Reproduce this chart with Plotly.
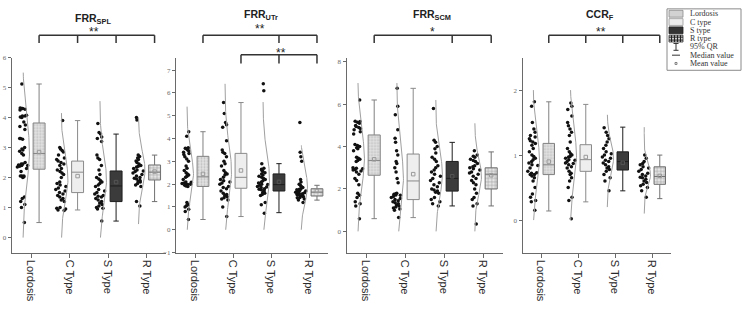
import numpy as np
import plotly.graph_objects as go

# ---------------- data ----------------
categories = ["Lordosis", "C Type", "S Type", "R Type"]
panel_titles = ["FRR<sub>SPL</sub>", "FRR<sub>UTr</sub>", "FRR<sub>SCM</sub>", "CCR<sub>F</sub>"]

# Panel 1: FRR_SPL
spl_lordosis = [5.12, 4.32, 4.3, 4.28, 4.3, 4.25, 4.08, 4.05, 4.02, 4.05, 4.0, 3.85, 3.75, 3.7, 3.6, 3.3,
                3.28, 3.3, 3.0, 2.95, 2.92, 2.88, 2.8, 2.75, 2.5, 2.45, 2.42, 2.4, 2.4, 2.38, 2.35, 2.45,
                2.3, 2.2, 2.05, 2.05, 2.03, 2.05, 2.0, 1.35, 1.3, 1.2, 1.1, 1.0, 0.5]
spl_c = [3.9, 3.0, 2.95, 2.9, 2.85, 2.75, 2.65, 2.6, 2.55, 2.5, 2.45, 2.4, 2.3, 2.25, 2.2, 2.15, 2.1, 2.0,
         1.85, 1.8, 1.75, 1.7, 1.65, 1.6, 1.55, 1.5, 1.45, 1.4, 1.35, 1.3, 1.25, 1.2, 1.0, 0.98, 0.95, 0.92, 0.9]
spl_s = [3.8, 3.5, 3.45, 3.35, 3.3, 3.2, 2.75, 2.65, 2.6, 2.4, 2.25, 2.1, 2.0, 1.95, 1.9, 1.85, 1.8, 1.75,
         1.7, 1.6, 1.55, 1.5, 1.45, 1.4, 1.38, 1.35, 1.3, 1.25, 1.2, 1.15, 1.1, 1.05, 1.0, 0.98, 0.95, 0.55]
spl_r = [4.0, 3.92, 2.75, 2.7, 2.65, 2.6, 2.55, 2.5, 2.45, 2.4, 2.38, 2.35, 2.3, 2.25, 2.22, 2.2, 2.15, 2.1,
         2.05, 2.0, 1.98, 1.95, 1.9, 1.88, 1.85, 1.8, 1.75, 1.7, 1.2, 1.05]
spl_low = [0.5, 0.92, 0.55, 1.2]
spl_q1 = [2.28, 1.5, 1.2, 1.92]
spl_median = [2.8, 2.18, 1.72, 2.18]
spl_q3 = [3.82, 2.55, 2.22, 2.42]
spl_high = [5.12, 3.9, 3.45, 2.75]
spl_mean = [2.85, 2.05, 1.85, 2.2]
spl_curve_lo = [0.0, 0.0, 0.0, 0.45]
spl_curve_hi = [5.5, 4.15, 4.55, 4.0]

# Panel 2: FRR_UTr
utr_lordosis = [4.3, 4.1, 3.6, 3.58, 3.55, 3.5, 3.45, 3.4, 3.35, 3.3, 3.2, 3.1, 3.0, 2.8, 2.7, 2.6, 2.5,
                2.45, 2.4, 2.35, 2.3, 2.2, 2.1, 2.08, 2.05, 2.03, 2.0, 2.0, 1.98, 1.95, 1.92, 1.9, 1.2, 1.1,
                1.05, 1.0, 0.9, 0.8, 0.45]
utr_c = [5.58, 5.1, 4.7, 4.6, 4.5, 3.9, 3.5, 3.4, 3.35, 3.2, 3.0, 2.9, 2.8, 2.6, 2.5, 2.45, 2.4, 2.3, 2.2,
         2.15, 2.1, 2.05, 2.0, 1.9, 1.85, 1.8, 1.7, 1.6, 1.55, 1.5, 1.45, 1.4, 1.35, 1.3, 1.0, 0.58]
utr_s = [6.4, 6.1, 2.9, 2.7, 2.65, 2.6, 2.55, 2.5, 2.45, 2.4, 2.35, 2.3, 2.25, 2.2, 2.15, 2.1, 2.05, 2.0,
         1.98, 1.95, 1.9, 1.88, 1.85, 1.8, 1.78, 1.75, 1.7, 1.65, 1.6, 1.55, 1.5, 1.2, 1.1, 0.72]
utr_r = [4.7, 3.4, 3.2, 3.0, 2.2, 2.1, 2.0, 1.95, 1.9, 1.85, 1.8, 1.78, 1.75, 1.72, 1.7, 1.68, 1.65, 1.62,
         1.6, 1.58, 1.55, 1.52, 1.5, 1.48, 1.45, 1.42, 1.4, 1.35, 1.3, 1.2]
utr_low = [0.45, 0.58, 0.75, 1.3]
utr_q1 = [1.9, 1.82, 1.7, 1.48]
utr_median = [2.32, 2.3, 1.98, 1.65]
utr_q3 = [3.22, 3.35, 2.45, 1.8]
utr_high = [4.3, 5.58, 2.9, 1.95]
utr_mean = [2.45, 2.6, 2.1, 1.7]
utr_curve_lo = [0.0, 0.0, 0.0, 0.0]
utr_curve_hi = [5.4, 6.4, 5.6, 3.7]

# Panel 3: FRR_SCM
scm_lordosis = [6.2, 5.2, 5.18, 5.15, 5.1, 5.0, 4.95, 4.9, 4.85, 4.8, 4.7, 4.6, 4.1, 4.05, 4.0, 3.95, 3.9,
                3.8, 3.5, 3.45, 3.4, 3.35, 3.3, 3.0, 2.98, 2.95, 2.92, 2.9, 2.85, 2.8, 2.7, 2.5, 2.4, 2.2,
                1.8, 1.7, 1.6, 1.4, 1.3, 1.2, 0.6]
scm_c = [6.75, 5.9, 5.5, 4.8, 4.4, 4.2, 3.8, 3.6, 3.3, 3.2, 3.0, 2.8, 2.5, 2.3, 1.8, 1.78, 1.75, 1.72, 1.7,
         1.65, 1.6, 1.55, 1.5, 1.45, 1.4, 1.35, 1.3, 1.25, 1.2, 1.15, 1.1, 1.05, 1.0, 0.65]
scm_s = [5.8, 4.3, 4.2, 4.0, 3.9, 3.7, 3.5, 3.4, 3.3, 3.1, 3.0, 2.9, 2.8, 2.7, 2.6, 2.5, 2.4, 2.3, 2.2, 2.1,
         2.0, 1.95, 1.9, 1.85, 1.8, 1.6, 1.5, 1.4, 1.3, 1.2]
scm_r = [3.8, 3.6, 3.55, 3.5, 3.4, 3.35, 3.3, 3.2, 3.1, 3.05, 3.0, 2.95, 2.9, 2.8, 2.75, 2.7, 2.6, 2.5,
         2.4, 2.3, 2.2, 2.0, 1.8, 1.6, 1.5, 1.3, 1.2, 0.35]
scm_low = [0.6, 0.65, 1.2, 1.2]
scm_q1 = [2.65, 1.5, 1.9, 2.0]
scm_median = [3.35, 2.38, 2.5, 2.7]
scm_q3 = [4.55, 3.65, 3.3, 3.0]
scm_high = [6.2, 6.75, 4.2, 3.75]
scm_mean = [3.4, 2.7, 2.6, 2.65]
scm_curve_lo = [0.0, 0.0, 0.0, 0.0]
scm_curve_hi = [7.0, 7.0, 6.2, 5.1]

# Panel 4: CCR_F
ccr_lordosis = [1.82, 1.75, 1.5, 1.4, 1.35, 1.3, 1.28, 1.25, 1.22, 1.2, 1.18, 1.15, 1.1, 1.05, 1.0, 0.98,
                0.95, 0.93, 0.9, 0.88, 0.85, 0.84, 0.8, 0.75, 0.73, 0.72, 0.7, 0.7, 0.68, 0.65, 0.6, 0.5,
                0.4, 0.35, 0.3, 0.28, 0.15]
ccr_c = [1.8, 1.75, 1.7, 1.6, 1.5, 1.45, 1.4, 1.35, 1.3, 1.2, 1.1, 1.05, 1.02, 1.0, 0.98, 0.97, 0.95, 0.93,
         0.92, 0.9, 0.88, 0.87, 0.85, 0.82, 0.8, 0.75, 0.72, 0.7, 0.65, 0.6, 0.5, 0.35, 0.3, 0.02]
ccr_s = [1.42, 1.35, 1.3, 1.25, 1.2, 1.15, 1.1, 1.05, 1.02, 1.0, 0.97, 0.95, 0.92, 0.9, 0.88, 0.85, 0.82,
         0.8, 0.78, 0.75, 0.7, 0.65, 0.6, 0.45]
ccr_r = [1.0, 0.95, 0.9, 0.87, 0.85, 0.82, 0.8, 0.78, 0.75, 0.72, 0.7, 0.68, 0.66, 0.65, 0.63, 0.6, 0.58,
         0.55, 0.53, 0.5, 0.45, 0.35]
ccr_low = [0.14, 0.28, 0.45, 0.33]
ccr_q1 = [0.7, 0.75, 0.77, 0.55]
ccr_median = [0.85, 0.93, 0.9, 0.67]
ccr_q3 = [1.18, 1.16, 1.05, 0.82]
ccr_high = [1.82, 1.78, 1.43, 1.0]
ccr_mean = [0.9, 0.97, 0.88, 0.68]
ccr_curve_lo = [0.0, 0.0, 0.2, 0.1]
ccr_curve_hi = [2.0, 2.0, 1.62, 1.43]

y_tick_values = [[0, 1, 2, 3, 4, 5, 6], [-1, 0, 1, 2, 3, 4, 5, 6, 7], [0, 2, 4, 6, 8], [0, 1, 2]]
significance = [["**"], ["**", "**"], ["*"], ["**"]]

legend_labels = ["Lordosis", "C type", "S type", "R type", "95% QR", "Median value", "Mean value"]

# ---------------- assembly ----------------
panels = [
    dict(points=[spl_lordosis, spl_c, spl_s, spl_r], low=spl_low, q1=spl_q1, med=spl_median, q3=spl_q3,
         high=spl_high, mean=spl_mean, clo=spl_curve_lo, chi=spl_curve_hi),
    dict(points=[utr_lordosis, utr_c, utr_s, utr_r], low=utr_low, q1=utr_q1, med=utr_median, q3=utr_q3,
         high=utr_high, mean=utr_mean, clo=utr_curve_lo, chi=utr_curve_hi),
    dict(points=[scm_lordosis, scm_c, scm_s, scm_r], low=scm_low, q1=scm_q1, med=scm_median, q3=scm_q3,
         high=scm_high, mean=scm_mean, clo=scm_curve_lo, chi=scm_curve_hi),
    dict(points=[ccr_lordosis, ccr_c, ccr_s, ccr_r], low=ccr_low, q1=ccr_q1, med=ccr_median, q3=ccr_q3,
         high=ccr_high, mean=ccr_mean, clo=ccr_curve_lo, chi=ccr_curve_hi),
]

# layout geometry (pixels)
W, H = 743, 317
geom = [
    dict(cat0=31, sp=38.5, yr=[-0.5, 6.0]),
    dict(cat0=195, sp=38.0, yr=[-1.0, 7.55]),
    dict(cat0=366, sp=39.0, yr=[-1.0, 8.2]),
    dict(cat0=541, sp=37.0, yr=[-0.5, 2.5]),
]
PLOT_TOP, PLOT_BOT = 55, 255
BOX_OFF, PT_OFF, BOX_W, CURVE_W = 0.21, -0.21, 0.31, 0.17

styles = [
    dict(fill="#dadada", pattern=dict(shape=".", fgcolor="#9a9a9a", bgcolor="#e2e2e2", size=3, solidity=0.35),
         line="#808080"),
    dict(fill="#eeeeee", pattern=None, line="#8a8a8a"),
    dict(fill="#3b3b3b", pattern=None, line="#1e1e1e"),
    dict(fill="#e4e4e4", pattern=dict(shape="+", fgcolor="#5a5a5a", bgcolor="#e6e6e6", size=3.5, solidity=0.3),
         line="#707070"),
]

def px2x(px):
    return px / W

def py2y(py):
    return 1 - py / H

fig = go.Figure()
layout = dict(
    width=W, height=H, margin=dict(l=0, r=0, t=0, b=0),
    paper_bgcolor="white", plot_bgcolor="white", showlegend=False,
    barmode="overlay", boxmode="overlay", hovermode=False,
    shapes=[], annotations=[],
)

for k, (p, g) in enumerate(zip(panels, geom)):
    sfx = "" if k == 0 else str(k + 1)
    xa, ya = "x" + sfx, "y" + sfx
    xdom = [px2x(g["cat0"] - 0.5 * g["sp"]), px2x(g["cat0"] + 3.5 * g["sp"])]
    ydom = [py2y(PLOT_BOT), py2y(PLOT_TOP)]
    layout["xaxis" + sfx] = dict(
        domain=xdom, range=[-0.5, 3.5], anchor=ya, showgrid=False, zeroline=False,
        showline=True, linecolor="#6a6a6a", linewidth=1, ticks="outside", ticklen=4,
        tickcolor="#6a6a6a", tickvals=[0, 1, 2, 3], ticktext=categories, tickangle=90,
        tickfont=dict(family="Liberation Sans", size=11, color="#2a2a2a"), fixedrange=True,
    )
    layout["yaxis" + sfx] = dict(
        domain=ydom, range=g["yr"], anchor=xa, showgrid=False, zeroline=False,
        showline=True, linecolor="#6a6a6a", linewidth=1, ticks="outside", ticklen=3,
        tickcolor="#6a6a6a", tickvals=y_tick_values[k],
        tickfont=dict(family="Liberation Serif", size=7, color="#6a6a6a"), fixedrange=True,
    )
    for i in range(4):
        st = styles[i]
        pts = np.array(p["points"][i], dtype=float)
        # distribution curve (normal fit of the points)
        mu, sd = pts.mean(), pts.std(ddof=1)
        yy = np.linspace(p["clo"][i], p["chi"][i], 80)
        xx = i + PT_OFF + CURVE_W * np.exp(-0.5 * ((yy - mu) / sd) ** 2)
        fig.add_trace(go.Scatter(x=xx, y=yy, mode="lines", line=dict(color="#a0a0a0", width=1),
                                 xaxis=xa, yaxis=ya, hoverinfo="skip"))
        # jittered raw points
        fig.add_trace(go.Box(y=pts, x0=i + PT_OFF, width=0.3, boxpoints="all", jitter=1.0, pointpos=0,
                             line=dict(width=0, color="rgba(0,0,0,0)"), fillcolor="rgba(0,0,0,0)",
                             marker=dict(color="#111111", size=3.5, line=dict(width=0)),
                             xaxis=xa, yaxis=ya, hoverinfo="skip"))
        # patterned box body
        if st["pattern"] is not None:
            fig.add_trace(go.Bar(x=[i + BOX_OFF], y=[p["q3"][i] - p["q1"][i]], base=[p["q1"][i]],
                                 width=BOX_W, marker=dict(color=st["pattern"]["bgcolor"],
                                                          line=dict(width=0), pattern=st["pattern"]),
                                 xaxis=xa, yaxis=ya, hoverinfo="skip"))
            fillc = "rgba(0,0,0,0)"
        else:
            fillc = st["fill"]
        fig.add_trace(go.Box(x=[i + BOX_OFF], q1=[p["q1"][i]], median=[p["med"][i]], q3=[p["q3"][i]],
                             lowerfence=[p["low"][i]], upperfence=[p["high"][i]], width=BOX_W,
                             whiskerwidth=0.45, fillcolor=fillc, line=dict(color=st["line"], width=1),
                             boxpoints=False, xaxis=xa, yaxis=ya, hoverinfo="skip"))
        fig.add_trace(go.Scatter(x=[i + BOX_OFF], y=[p["mean"][i]], mode="markers",
                                 marker=dict(symbol="square-open", size=3.5,
                                             color="#9a9a9a" if i != 2 else "#555555", line=dict(width=1)),
                                 xaxis=xa, yaxis=ya, hoverinfo="skip"))

# ---------------- titles, brackets, stars ----------------
title_pos = [(93, 15), (261, 11), (432, 11), (600, 11)]
for k in range(4):
    tx, ty = title_pos[k]
    layout["annotations"].append(dict(
        x=px2x(tx), y=py2y(ty), xref="paper", yref="paper", text="<b>" + panel_titles[k] + "</b>",
        showarrow=False, font=dict(family="Liberation Sans", size=10.5, color="#222222"),
        xanchor="center", yanchor="middle"))

def bracket(k, x_from, ticks, top_py, bot_py):
    sfx = "" if k == 0 else str(k + 1)
    xr = "x" + sfx
    ln = dict(color="#333333", width=1.5)
    layout["shapes"].append(dict(type="line", xref=xr, yref="paper", x0=x_from + BOX_OFF, x1=3 + BOX_OFF,
                                 y0=py2y(top_py), y1=py2y(top_py), line=ln))
    for t in ticks:
        layout["shapes"].append(dict(type="line", xref=xr, yref="paper", x0=t + BOX_OFF, x1=t + BOX_OFF,
                                     y0=py2y(top_py), y1=py2y(bot_py), line=ln))

bracket(0, 0, [0, 1, 2, 3], 32, 40)
bracket(1, 0, [0, 2, 3], 32, 40)
bracket(1, 1, [1, 2, 3], 52, 61)
bracket(2, 0, [0, 2, 3], 32, 40)
bracket(3, 0, [0, 1, 2, 3], 32, 40)

star_pos = [[(94, 29)], [(260, 26), (281, 50)], [(432, 29)], [(601, 29)]]
for k in range(4):
    for s, (sx, sy) in zip(significance[k], star_pos[k]):
        layout["annotations"].append(dict(
            x=px2x(sx), y=py2y(sy), xref="paper", yref="paper", text=s, showarrow=False,
            font=dict(family="Liberation Sans", size=12, color="#222222"), xanchor="center", yanchor="middle"))

# ---------------- manual legend ----------------
lx0, lx1, ly0, ly1 = 667, 741, 5, 68
layout["shapes"].append(dict(type="rect", xref="paper", yref="paper", x0=px2x(lx0), x1=px2x(lx1),
                             y0=py2y(ly0), y1=py2y(ly1), line=dict(color="#8a8a8a", width=1),
                             fillcolor="white"))
entry_y = [10, 18.5, 27, 35.5, 44, 52.5, 61]
sx0, sx1 = 669, 683
sw_fill = ["#d2d2d2", "#ececec", "#333333", "#cfcfcf"]
sw_line = ["#8a8a8a", "#9a9a9a", "#222222", "#333333"]
for j in range(4):
    cy = entry_y[j]
    layout["shapes"].append(dict(type="rect", xref="paper", yref="paper", x0=px2x(sx0), x1=px2x(sx1),
                                 y0=py2y(cy - 3.5), y1=py2y(cy + 3.5), fillcolor=sw_fill[j],
                                 line=dict(color=sw_line[j], width=0.8)))
# grid lines in R type swatch
cy = entry_y[3]
for gx in [671.5, 674.5, 677.5, 680.5]:
    layout["shapes"].append(dict(type="line", xref="paper", yref="paper", x0=px2x(gx), x1=px2x(gx),
                                 y0=py2y(cy - 3.5), y1=py2y(cy + 3.5), line=dict(color="#222222", width=1)))
for gy in [cy - 1.5, cy + 1.5]:
    layout["shapes"].append(dict(type="line", xref="paper", yref="paper", x0=px2x(sx0), x1=px2x(sx1),
                                 y0=py2y(gy), y1=py2y(gy), line=dict(color="#222222", width=1)))
# whisker icon
cy = entry_y[4]
ic = dict(color="#333333", width=1)
layout["shapes"].append(dict(type="line", xref="paper", yref="paper", x0=px2x(676), x1=px2x(676),
                             y0=py2y(cy - 3.5), y1=py2y(cy + 3.5), line=ic))
for yy in [cy - 3.5, cy + 3.5]:
    layout["shapes"].append(dict(type="line", xref="paper", yref="paper", x0=px2x(673.5), x1=px2x(678.5),
                                 y0=py2y(yy), y1=py2y(yy), line=ic))
# median icon
cy = entry_y[5]
layout["shapes"].append(dict(type="line", xref="paper", yref="paper", x0=px2x(672), x1=px2x(680),
                             y0=py2y(cy), y1=py2y(cy), line=ic))
# mean icon
cy = entry_y[6]
layout["shapes"].append(dict(type="rect", xref="paper", yref="paper", x0=px2x(675), x1=px2x(677),
                             y0=py2y(cy - 1), y1=py2y(cy + 1), line=dict(color="#666666", width=0.8)))
for j, lab in enumerate(legend_labels):
    layout["annotations"].append(dict(
        x=px2x(688), y=py2y(entry_y[j]), xref="paper", yref="paper", text=lab, showarrow=False,
        font=dict(family="Liberation Serif", size=8, color="#333333"), xanchor="left", yanchor="middle"))

fig.update_layout(**layout)
fig.write_html("out.html", config={"displayModeBar": False, "staticPlot": True},
               post_script="document.body.style.margin='0';document.body.style.padding='0';"
                           "document.body.style.overflow='hidden';")
